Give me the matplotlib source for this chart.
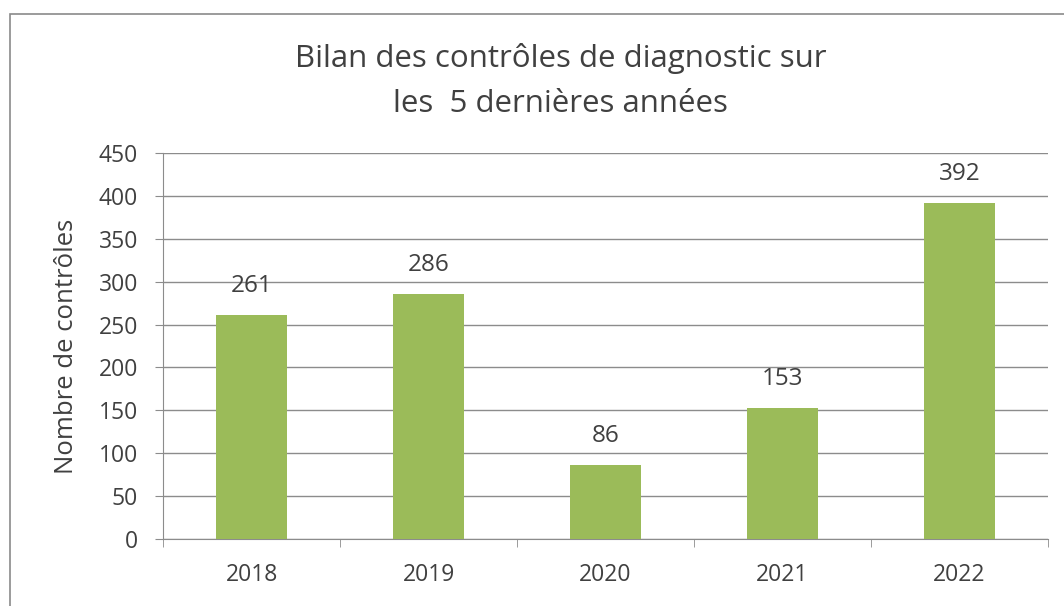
import matplotlib.pyplot as plt
from matplotlib.patches import Rectangle

years = ['2018', '2019', '2020', '2021', '2022']
controles = [261, 286, 86, 153, 392]

plt.rcParams['font.family'] = ['Open Sans', 'DejaVu Sans']
text_color = '#404040'
grid_color = '#8c8c8c'

fig = plt.figure(figsize=(10.64, 6.06), dpi=100)
ax = fig.add_axes([0.1532, 0.1106, 0.8318, 0.6369])

# cadre du graphique
fig.patches.append(Rectangle((10 / 1064, -0.1), 1.2, 1.0 - 14 / 606 + 0.1,
                             transform=fig.transFigure, fill=False,
                             edgecolor='#8a8a8a', linewidth=1.2))

x = range(len(years))
bars = ax.bar(x, controles, width=0.4, color='#9BBB59', zorder=3)

for xi, v in zip(x, controles):
    ax.text(xi, v + 34, str(v), ha='center', va='center', fontsize=17.5, color=text_color)

ax.set_xlim(-0.5, len(years) - 0.5)
ax.set_ylim(0, 450)
ax.set_yticks(range(0, 451, 50))
ax.set_xticks(list(x))
ax.set_xticklabels(years)
ax.set_xticks([i - 0.5 for i in range(len(years) + 1)], minor=True)
ax.tick_params(axis='x', which='major', length=0, labelsize=16.5, colors=text_color, pad=17)
ax.tick_params(axis='x', which='minor', length=6, color=grid_color, direction='out')
ax.tick_params(axis='y', length=6, color=grid_color, labelsize=16.5, colors=text_color, pad=12)

ax.grid(axis='y', color=grid_color, linewidth=1, zorder=0)
for side in ['top', 'right']:
    ax.spines[side].set_visible(False)
ax.spines['left'].set_color(grid_color)
ax.spines['bottom'].set_color(grid_color)

ax.set_ylabel('Nombre de contrôles', fontsize=18.5, color=text_color, labelpad=14)
fig.text(0.527, 0.904, 'Bilan des contrôles de diagnostic sur', ha='center', va='center',
         fontsize=22.5, color=text_color)
fig.text(0.527, 0.828, 'les  5 dernières années', ha='center', va='center',
         fontsize=22.5, color=text_color)

fig.savefig('out.png', dpi=100)
